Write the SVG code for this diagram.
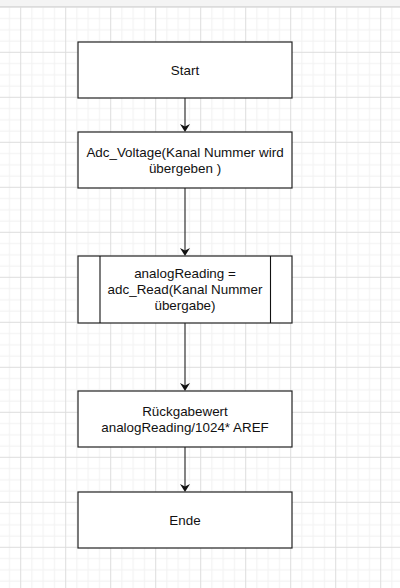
<svg xmlns="http://www.w3.org/2000/svg" width="400" height="588" viewBox="0 0 400 588">
  <style>
    .box { fill: #ffffff; stroke: #222222; stroke-width: 1.2; }
    .inner { fill: none; stroke: #111111; stroke-width: 1.1; }
    .lbl { font-family: "Liberation Sans", Arial, sans-serif; font-size: 13.4px; fill: #111111; text-anchor: middle; }
    .edge { fill: none; stroke: #333333; stroke-width: 1.2; marker-end: url(#arrow); }
  </style>
  <defs>
    <pattern id="grid" patternUnits="userSpaceOnUse" x="20.2" y="6.8" width="45" height="45">
      <rect x="0" y="11.25" width="45" height="1" fill="#f1f1f1"/>
      <rect x="0" y="22.5" width="45" height="1" fill="#f1f1f1"/>
      <rect x="0" y="33.75" width="45" height="1" fill="#f1f1f1"/>
      <rect x="11.25" y="0" width="1" height="45" fill="#f1f1f1"/>
      <rect x="22.5" y="0" width="1" height="45" fill="#f1f1f1"/>
      <rect x="33.75" y="0" width="1" height="45" fill="#f1f1f1"/>
      <rect x="0" y="0" width="45" height="1" fill="#dddddd"/>
      <rect x="0" y="0" width="1" height="45" fill="#dddddd"/>
    </pattern>
    <marker id="arrow" viewBox="0 0 8 10" refX="3" refY="5" markerWidth="8" markerHeight="10" markerUnits="userSpaceOnUse" orient="auto">
      <path d="M0,0 L8,5 L0,10 L2.5,5 Z" fill="#111111"/>
    </marker>
  </defs>

  <rect x="0" y="0" width="400" height="588" fill="#ffffff"/>
  <rect x="0" y="7" width="400" height="581" fill="url(#grid)"/>
  <rect x="0" y="0" width="400" height="6" fill="#f4f4f4"/>
  <rect x="0" y="6" width="400" height="1" fill="#dcdcdc"/>

  <g id="connectors">
    <line class="edge" x1="185" y1="98" x2="185" y2="127"/>
    <line class="edge" x1="185" y1="188" x2="185" y2="251"/>
    <line class="edge" x1="185" y1="323" x2="185" y2="386"/>
    <line class="edge" x1="185" y1="447" x2="185" y2="487"/>
  </g>

  <g id="start">
    <rect class="box" x="78" y="42" width="214" height="56"/>
    <text class="lbl" x="185" y="74.7">Start</text>
  </g>

  <g id="adc_voltage">
    <rect class="box" x="78" y="132" width="214" height="56"/>
    <text class="lbl" x="185" y="157">Adc_Voltage(Kanal Nummer wird</text>
    <text class="lbl" x="185" y="173">übergeben )</text>
  </g>

  <g id="analog_reading">
    <rect class="box" x="78" y="256" width="214" height="67"/>
    <line class="inner" x1="100" y1="256" x2="100" y2="323"/>
    <line class="inner" x1="270.5" y1="256" x2="270.5" y2="323"/>
    <text class="lbl" x="185" y="277.7">analogReading =</text>
    <text class="lbl" x="185" y="293.7">adc_Read(Kanal Nummer</text>
    <text class="lbl" x="185" y="309.7">übergabe)</text>
  </g>

  <g id="rueckgabewert">
    <rect class="box" x="78" y="391" width="214" height="56"/>
    <text class="lbl" x="185" y="415.5">Rückgabewert</text>
    <text class="lbl" x="185" y="431.5">analogReading/1024* AREF</text>
  </g>

  <g id="ende">
    <rect class="box" x="78" y="492" width="214" height="56"/>
    <text class="lbl" x="185" y="524.7">Ende</text>
  </g>
</svg>
